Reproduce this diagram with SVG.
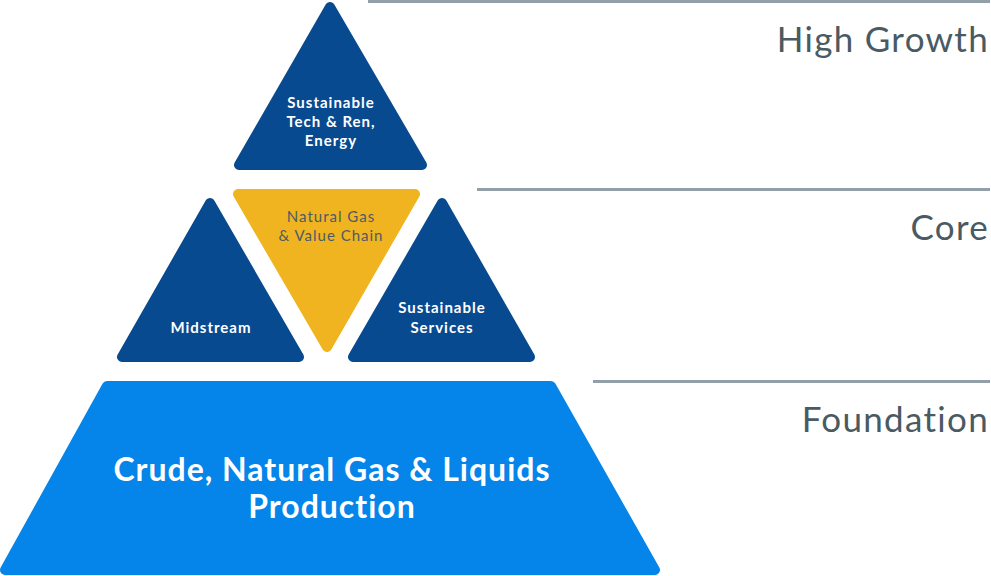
<svg xmlns="http://www.w3.org/2000/svg" width="991" height="576" viewBox="0 0 991 576">
<style>
.shape{stroke-width:10;stroke-linejoin:round}
.dark{fill:#084a8f;stroke:#084a8f}
.gold{fill:#f0b420;stroke:#f0b420}
.bright{fill:#0585e9;stroke:#0585e9}
.lbl{font-family:Lato,"Open Sans",sans-serif;text-anchor:middle}
.w{fill:#ffffff;font-weight:bold;font-size:15px;letter-spacing:1px}
.g{fill:#4d5b66;font-size:15px;letter-spacing:1px}
.big{fill:#ffffff;font-weight:bold;font-size:32px;letter-spacing:1px}
.tier{font-family:Lato,"Open Sans",sans-serif;font-size:35px;letter-spacing:1.3px;fill:#4a5a62;text-anchor:end}
.rule{fill:#919fa8}
</style>
<g id="rules">
<rect class="rule" x="368" y="0" width="622" height="3"/>
<rect class="rule" x="477" y="188" width="513" height="3"/>
<rect class="rule" x="593" y="380" width="397" height="3"/>
</g>
<g id="tier-labels">
<text class="tier" x="989" y="52">High Growth</text>
<text class="tier" x="989" y="240">Core</text>
<text class="tier" x="989" y="432">Foundation</text>
</g>
<g id="node-tech">
<polygon class="shape dark" points="330,7 239,165 422,165"/>
<text class="lbl w" x="331" y="108">Sustainable</text>
<text class="lbl w" x="331" y="127">Tech &amp; Ren,</text>
<text class="lbl w" x="331" y="146">Energy</text>
</g>
<g id="node-gas">
<polygon class="shape gold" points="238,194 415,194 327,347"/>
<text class="lbl g" x="331" y="222">Natural Gas</text>
<text class="lbl g" x="331" y="241">&amp; Value Chain</text>
</g>
<g id="node-midstream">
<polygon class="shape dark" points="210,203 122,357 299,357"/>
<text class="lbl w" x="211" y="333">Midstream</text>
</g>
<g id="node-services">
<polygon class="shape dark" points="442,203 353,357 530,357"/>
<text class="lbl w" x="442" y="313">Sustainable</text>
<text class="lbl w" x="442" y="333">Services</text>
</g>
<g id="node-production">
<polygon class="shape bright" points="107,386 551,386 655,570 5,570"/>
<text class="lbl big" x="332" y="481">Crude, Natural Gas &amp; Liquids</text>
<text class="lbl big" x="332" y="518">Production</text>
</g>
<g id="connectors"></g>
</svg>
